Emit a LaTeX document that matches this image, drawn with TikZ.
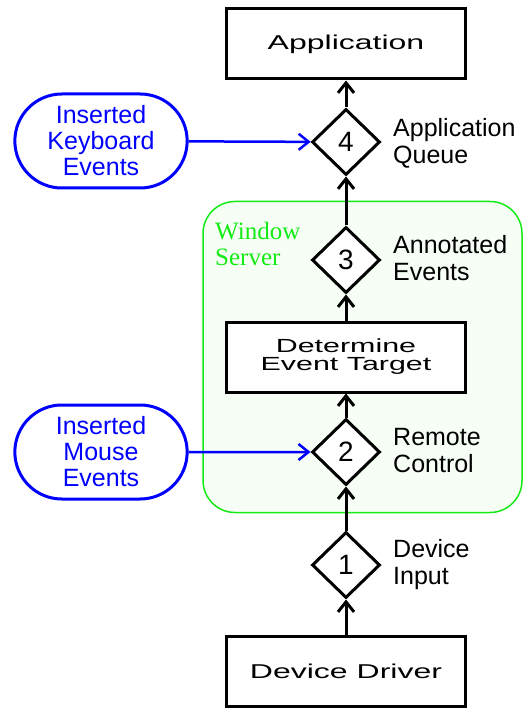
\documentclass[tikz,border=0pt]{standalone}
\usepackage{fontspec}
\setmainfont{Liberation Sans}
\newfontfamily\widefont[FakeStretch=1.6]{Liberation Sans}
\newfontfamily\serverfont{Liberation Serif}
\usetikzlibrary{shapes.geometric,shapes.misc,arrows.meta}
\definecolor{serverGreen}{RGB}{20,235,20}
\colorlet{paleGreen}{serverGreen!4!white}

\begin{document}
\begin{tikzpicture}[x=1pt,y=-1pt,
    box/.style={draw,fill=white,line width=3pt,minimum width=239pt,minimum height=70pt,align=center,font=\widefont\fontsize{20}{17}\selectfont},
    queue/.style={diamond,draw,fill=white,line width=3pt,minimum width=68pt,minimum height=66pt,inner sep=0pt,font=\fontsize{28}{30}\selectfont},
    note/.style={anchor=west,align=left,inner sep=0pt,font=\fontsize{25}{27}\selectfont},
    inserted/.style={rounded rectangle,draw=blue,text=blue,line width=3pt,minimum width=179pt,minimum height=94pt,align=center,font=\fontsize{25}{26}\selectfont},
    flow/.style={-{Straight Barb[length=10pt,width=16pt]},line width=3pt}]
    \useasboundingbox (0,0) rectangle (523,708);
    % the window server region
    \node[draw=serverGreen,fill=paleGreen,rounded corners=32pt,line width=1.5pt,minimum width=319pt,minimum height=311pt] (server) at (362.5,357) {};
    \node[anchor=west,align=left,inner sep=0pt,text=serverGreen,font=\serverfont\fontsize{25}{26}\selectfont] (serverName) at (215,244) {Window\\Server};

    \node[box] (app) at (346,44) {Application};
    \node[queue] (q4) at (346,142) {4};
    \node[queue] (q3) at (346,260) {3};
    \node[box,font=\widefont\fontsize{19}{18}\selectfont] (target) at (346,357) {Determine\\Event Target};
    \node[queue] (q2) at (346,452) {2};
    \node[queue] (q1) at (346,565) {1};
    \node[box] (driver) at (346,671) {Device Driver};

    \node[note] (appQueue) at (393,143) {Application\\Queue};
    \node[note] (annotated) at (393,258) {Annotated\\Events};
    \node[note] (remote) at (393,451) {Remote\\Control};
    \node[note] (devInput) at (393,565) {Device\\Input};

    \node[inserted] (keyboard) at (101,141) {Inserted\\Keyboard\\Events};
    \node[inserted] (mouse) at (101,452) {Inserted\\Mouse\\Events};

    \draw[flow] (driver) -- (q1);
    \draw[flow] (q1) -- (q2);
    \draw[flow] (q2) -- (target);
    \draw[flow] (target) -- (q3);
    \draw[flow] (q3) -- (q4);
    \draw[flow] (q4) -- (app);
    \draw[flow,blue,line width=2.5pt] (keyboard) -- (q4);
    \draw[flow,blue,line width=2.5pt] (mouse) -- (q2);
\end{tikzpicture}
\end{document}
